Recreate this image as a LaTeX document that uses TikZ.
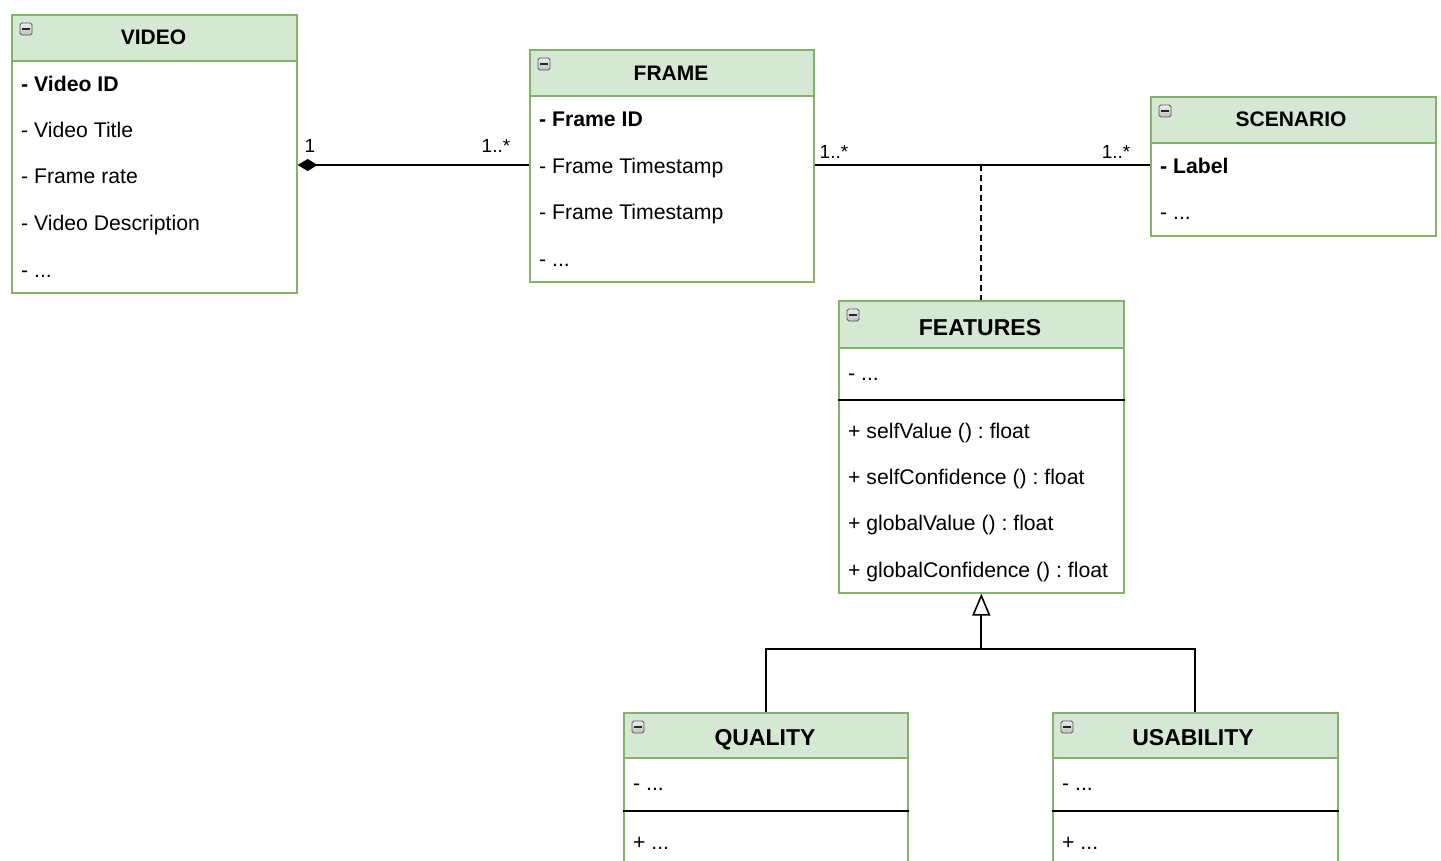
\documentclass[tikz,border=0pt]{standalone}
\usepackage{fontspec}
\setmainfont{Liberation Sans}
\usetikzlibrary{arrows.meta}
\definecolor{hdrfill}{HTML}{D5E8D4}
\definecolor{hdrdraw}{HTML}{82B366}
\tikzset{
  classbox/.style={draw=hdrdraw, line width=1.6pt, fill=white, anchor=north west, inner sep=0pt},
  hdrbox/.style={draw=hdrdraw, line width=1.6pt, fill=hdrfill, anchor=north west, inner sep=0pt, minimum height=46pt},
  ctitle/.style={font=\fontsize{21}{25}\selectfont\bfseries, inner sep=0pt, anchor=base},
  btitle/.style={font=\fontsize{23}{27}\selectfont\bfseries, inner sep=0pt, anchor=base},
  attr/.style={font=\fontsize{21.2}{25}\selectfont, anchor=base west, inner sep=0pt},
  mult/.style={font=\fontsize{19}{22}\selectfont, inner sep=0pt},
  divider/.style={line width=1.6pt, black},
  conn/.style={line width=1.8pt, black},
  pics/collapse/.style={code={
    \draw[top color=gray!15, bottom color=gray!50, draw=gray!70!black, line width=0.9pt, rounded corners=1.8pt] (-6,-6) rectangle (6,6);
    \fill[black!85] (-4,-1.3) rectangle (4,1.3);
  }}
}
\begin{document}
\frenchspacing
\begin{tikzpicture}[x=1pt,y=-1pt]
\clip (0,0) rectangle (1441,861);
\fill[white] (0,0) rectangle (1441,861);

% ---------- VIDEO ----------
\node[classbox, minimum width=285pt, minimum height=278pt] (video) at (11,14) {};
\node[hdrbox, minimum width=285pt] (videoh) at (11,14) {};
\node[ctitle] (videot) at (153.5,44.5) {VIDEO};
\pic at ([shift={(15,15)}]videoh.north west) {collapse};
\node[attr] (v1) at (21,91.5) {\textbf{- Video ID}};
\node[attr] (v2) at (21,137.5) {- Video Title};
\node[attr] (v3) at (21,183.5) {- Frame rate};
\node[attr] (v4) at (21,230.5) {- Video Description};
\node[attr] (v5) at (21,277) {- ...};

% ---------- FRAME ----------
\node[classbox, minimum width=284pt, minimum height=232pt] (frame) at (529,49) {};
\node[hdrbox, minimum width=284pt] (frameh) at (529,49) {};
\node[ctitle] (framet) at (671,80.5) {FRAME};
\pic at ([shift={(15,15)}]frameh.north west) {collapse};
\node[attr] (f1) at (539,126.5) {\textbf{- Frame ID}};
\node[attr] (f2) at (539,173.5) {- Frame Timestamp};
\node[attr] (f3) at (539,219.5) {- Frame Timestamp};
\node[attr] (f4) at (539,267) {- ...};

% ---------- SCENARIO ----------
\node[classbox, minimum width=285pt, minimum height=139pt] (scen) at (1150,96) {};
\node[hdrbox, minimum width=285pt] (scenh) at (1150,96) {};
\node[ctitle] (scent) at (1291,126.5) {SCENARIO};
\pic at ([shift={(15,15)}]scenh.north west) {collapse};
\node[attr] (s1) at (1160,173.5) {\textbf{- Label}};
\node[attr] (s2) at (1160,220) {- ...};

% ---------- FEATURES ----------
\node[classbox, minimum width=285pt, minimum height=292pt] (feat) at (838,300) {};
\node[hdrbox, minimum width=285pt, minimum height=47pt] (feath) at (838,300) {};
\node[btitle] (featt) at (980,335.5) {FEATURES};
\pic at ([shift={(15,15)}]feath.north west) {collapse};
\node[attr] (e0) at (848,380) {- ...};
\draw[divider] (feat.west |- 0,400) -- (feat.east |- 0,400);
\node[attr] (e1) at (848,438.5) {+ selfValue () : float};
\node[attr] (e2) at (848,484.5) {+ selfConfidence () : float};
\node[attr] (e3) at (848,530.5) {+ globalValue () : float};
\node[attr] (e4) at (848,577) {+ globalConfidence () : float};

% ---------- QUALITY ----------
\node[classbox, minimum width=284pt, minimum height=180pt] (qual) at (623,712) {};
\node[hdrbox, minimum width=284pt, minimum height=45pt] (qualh) at (623,712) {};
\node[btitle] (qualt) at (765,745.5) {QUALITY};
\pic at ([shift={(15,15)}]qualh.north west) {collapse};
\node[attr] (q1) at (633,790) {- ...};
\draw[divider] (qual.west |- 0,811) -- (qual.east |- 0,811);
\node[attr] (q2) at (633,849) {+ ...};

% ---------- USABILITY ----------
\node[classbox, minimum width=285pt, minimum height=180pt] (usab) at (1052,712) {};
\node[hdrbox, minimum width=285pt, minimum height=45pt] (usabh) at (1052,712) {};
\node[btitle] (usabt) at (1193,745.5) {USABILITY};
\pic at ([shift={(15,15)}]usabh.north west) {collapse};
\node[attr] (u1) at (1062,790) {- ...};
\draw[divider] (usab.west |- 0,811) -- (usab.east |- 0,811);
\node[attr] (u2) at (1062,849) {+ ...};

% ---------- connectors ----------
\coordinate (lvl) at (0,165);
\draw[conn, {Diamond[length=20pt,width=12pt,fill=black]}-] (video.east |- lvl) -- (frame.west |- lvl);
\node[mult] (m1) at (310,146) {1};
\node[mult] (m2) at (496,146) {1..*};

\draw[conn] (frame.east |- lvl) -- (scen.west |- lvl);
\node[mult] (m3) at (834,152) {1..*};
\node[mult] (m4) at (1116,152) {1..*};

\coordinate (assoc) at (feat.north |- lvl);
\draw[line width=1.8pt, dash pattern=on 6pt off 4pt] (assoc) -- (feat.north);

\coordinate (gen) at (feat.south |- 0,649);
\draw[conn, -{Triangle[open, length=22pt, width=18pt, fill=white, line width=1.6pt]}] (gen) -- (feat.south);
\draw[conn] (qual.north) |- (gen) -| (usab.north);
\end{tikzpicture}
\end{document}
